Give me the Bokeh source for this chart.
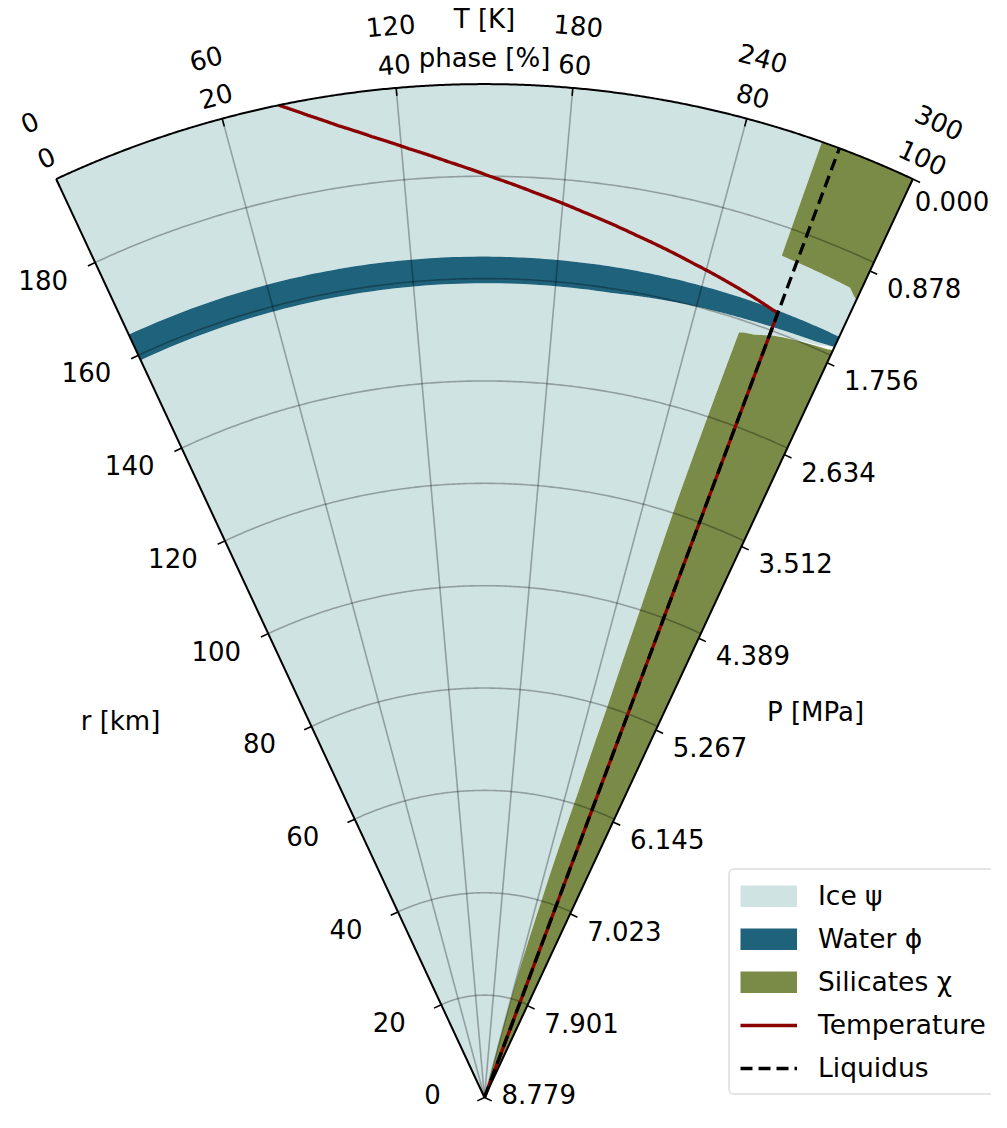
import numpy as np
from bokeh.plotting import figure
from bokeh.models import Range1d, Legend, LegendItem
from bokeh.embed import file_html
from bokeh.resources import INLINE
from bokeh.core.properties import value

# ---------------- data ----------------
R_KM = 198.0          # outer radius [km]
T_MAX = 300.0         # temperature axis maximum [K]
P_MAX = 8.779         # central pressure [MPa]

# radius samples [km] and phase fractions [%]
r_km = [0, 10, 22, 39, 62, 80, 100, 122.5, 140, 157.5, 157.8, 158.1, 158.95,
        159.15, 159.6, 160.0, 160.4, 160.8, 161.1, 161.3, 161.8, 164.0, 164.15,
        164.3, 164.45, 172.0, 172.2, 172.8, 173.6, 174.4, 174.5, 198]
water_pct = [0, 0, 0, 0, 0, 0, 0, 0, 0, 0, 0, 0, 0,
             68, 74, 80, 87, 92, 95.5, 97.5, 100, 100, 85,
             50, 0, 0, 0, 0, 0, 0, 0, 0]
silicate_pct = [21.0, 20.6, 19.8, 17.8, 15.9, 15.1, 14.6, 14.2, 13.7, 13.2, 12.6, 11.0, 9.0,
                8.6, 7.0, 5.0, 3.0, 0.8, 0, 0, 0, 0, 0,
                0, 0, 0, 0.3, 0.8, 1.4, 11.0, 11.1, 11.1]
ice_pct = [79.0, 79.4, 80.2, 82.2, 84.1, 84.9, 85.4, 85.8, 86.3, 86.8, 87.4, 89.0, 91.0,
           23.4, 18.5, 14.2, 9.0, 6.0, 3.0, 1.5, 0, 0, 15,
           50, 100, 100, 99.7, 99.2, 98.6, 89.0, 88.9, 88.9]

# temperature profile
temp_r = [198, 195, 192, 189, 186, 183, 180, 177, 174, 171, 168, 165, 163.6, 140, 100, 50, 0]
temp_K = [79.7, 88.8, 98.7, 110.0, 122.5, 136.5, 152.0, 169.5, 188.8, 210.3, 234.3, 261.0,
          273.0, 273.0, 273.0, 273.0, 273.0]
# liquidus
liq_r = [0, 198]
liq_K = [273.0, 273.0]

# ticks
phase_ticks = [0, 20, 40, 60, 80, 100]
temp_ticks = [0, 60, 120, 180, 240, 300]
r_ticks = [0, 20, 40, 60, 80, 100, 120, 140, 160, 180]
p_ticks = [0.000, 0.878, 1.756, 2.634, 3.512, 4.389, 5.267, 6.145, 7.023, 7.901, 8.779]

# ---------------- geometry ----------------
W, H = 991, 1112
CX, CY = 484.0, 1097.0          # canvas px of the pole
S = 1013.4 / R_KM               # px per km
HALF = 25.0                     # half opening angle [deg]
FONT = value("DejaVu Sans")
FS = "26px"

ICE_C = "#d0e3e3"
WATER_C = "#1e627b"
SIL_C = "#798b47"
TEMP_C = "#8b0000"


def polar(f, r):
    a = np.radians((np.asarray(f, dtype=float) - 0.5) * 2 * HALF)
    r = np.asarray(r, dtype=float)
    return r * np.sin(a), r * np.cos(a)


def page(px, py):
    return (px - CX) / S, (CY - py) / S


def seg_path(rs, fs, n=60):
    pr, pf = [], []
    for i in range(len(rs) - 1):
        t = np.linspace(0, 1, n, endpoint=False)
        pr.extend(rs[i] + (rs[i + 1] - rs[i]) * t)
        pf.extend(fs[i] + (fs[i + 1] - fs[i]) * t)
    pr.append(rs[-1])
    pf.append(fs[-1])
    return np.array(pf), np.array(pr)


def arc(r, f0, f1, n=200):
    f = np.linspace(f0, f1, n)
    return f, np.full(n, r)


def region(r, fl, fr):
    r = np.asarray(r, float)
    fl = np.asarray(fl, float)
    fr = np.asarray(fr, float)
    pos = (fr - fl) > 1e-9
    xs, ys = [], []
    i = 0
    N = len(r)
    while i < N:
        if not pos[i]:
            i += 1
            continue
        a = i
        while i < N and pos[i]:
            i += 1
        b = i - 1
        i0, i1 = max(a - 1, 0), min(b + 1, N - 1)
        lf, lr = seg_path(r[i0:i1 + 1], fl[i0:i1 + 1])
        rf, rr = seg_path(r[i0:i1 + 1], fr[i0:i1 + 1])
        tf, tr = arc(r[i1], fl[i1], fr[i1])
        bf, br = arc(r[i0], fr[i0], fl[i0])
        F = np.concatenate([lf, tf, rf[::-1], bf])
        Rr = np.concatenate([lr, tr, rr[::-1], br])
        x, y = polar(F, Rr)
        xs.append(list(x))
        ys.append(list(y))
    return xs, ys


p = figure(width=W, height=H, output_backend="svg", toolbar_location=None,
           x_range=Range1d(-CX / S, (W - CX) / S), y_range=Range1d(-(H - CY) / S, CY / S),
           x_axis_type=None, y_axis_type=None, min_border=0)
p.outline_line_color = None
p.background_fill_color = "white"

phi = np.array(water_pct) / 100.0
psi = np.array(ice_pct) / 100.0
chi = np.array(silicate_pct) / 100.0

ix, iy = region(r_km, phi, phi + psi)
p.patches(ix, iy, fill_color=ICE_C, line_color=None)
wx, wy = region(r_km, np.zeros_like(phi), phi)
p.patches(wx, wy, fill_color=WATER_C, line_color=None)
sx, sy = region(r_km, 1 - chi, np.ones_like(chi))
p.patches(sx, sy, fill_color=SIL_C, line_color=None)

# legend proxies (zero-length lines: nothing visible in the plot)
lg_ice = p.line([0, 0], [0, 0], line_color=ICE_C, line_width=22)
lg_water = p.line([0, 0], [0, 0], line_color=WATER_C, line_width=22)
lg_sil = p.line([0, 0], [0, 0], line_color=SIL_C, line_width=22)

# grid
gx, gy = [], []
for ft in phase_ticks[1:-1]:
    x, y = polar([ft / 100.0] * 2, [0, R_KM])
    gx.append(list(x)); gy.append(list(y))
for rt in r_ticks[1:]:
    f, rr = arc(rt, 0, 1)
    x, y = polar(f, rr)
    gx.append(list(x)); gy.append(list(y))
p.multi_line(gx, gy, line_color="black", line_alpha=0.3, line_width=1.6)

# temperature & liquidus
tf, tr = seg_path(temp_r, np.array(temp_K) / T_MAX, n=30)
tx, ty = polar(tf, tr)
r_temp = p.line(tx, ty, line_color=TEMP_C, line_width=3.3)
lf, lr = seg_path(liq_r, np.array(liq_K) / T_MAX, n=10)
lx, ly = polar(lf, lr)
r_liq = p.line(lx, ly, line_color="black", line_width=3.3, line_dash="12 6")

# spines
f, rr = arc(R_KM, 0, 1, 400)
x, y = polar(f, rr)
ex0, ey0 = polar([0, 0], [0, R_KM])
ex1, ey1 = polar([1, 1], [0, R_KM])
p.multi_line([list(x), list(ex0), list(ex1)], [list(y), list(ey0), list(ey1)],
             line_color="black", line_width=2)

# ticks
TL = 8.0 / S
a0 = np.radians(HALF)
tkx0, tky0, tkx1, tky1 = [], [], [], []
for ft in phase_ticks:
    x0, y0 = polar(ft / 100.0, R_KM)
    x1, y1 = polar(ft / 100.0, R_KM - TL)
    tkx0.append(float(x0)); tky0.append(float(y0)); tkx1.append(float(x1)); tky1.append(float(y1))
for rt in r_ticks:
    x0, y0 = polar(0.0, rt)
    tkx0.append(float(x0)); tky0.append(float(y0))
    tkx1.append(float(x0) - TL * np.cos(a0)); tky1.append(float(y0) - TL * np.sin(a0))
p_r = [R_KM * (1 - pv / P_MAX) for pv in p_ticks]
for rt in p_r:
    x0, y0 = polar(1.0, rt)
    tkx0.append(float(x0)); tky0.append(float(y0))
    tkx1.append(float(x0) + TL * np.cos(a0)); tky1.append(float(y0) - TL * np.sin(a0))
p.segment(tkx0, tky0, tkx1, tky1, line_color="black", line_width=1.6)

# theta tick labels
for ticks, scale, off in [(phase_ticks, 100.0, 24.0), (temp_ticks, T_MAX, 63.0)]:
    fs = np.array(ticks) / scale
    x, y = polar(fs, R_KM + off / S)
    ang = -np.radians((fs - 0.5) * 2 * HALF)
    p.text(list(x), list(y), text=[str(t) for t in ticks], angle=list(ang),
           text_align="center", text_baseline="middle", text_font=FONT, text_font_size=FS,
           text_color="black")

# theta axis titles
x, y = polar([0.5, 0.5], [R_KM + 26 / S, R_KM + 65 / S])
p.text(list(x), list(y), text=["phase [%]", "T [K]"], text_align="center", text_baseline="middle",
       text_font=FONT, text_font_size=FS, text_color="black")

# r tick labels (left); the bottom one is lifted to stay inside the canvas
x, y = polar(np.zeros(len(r_ticks)), r_ticks)
r_yoff = [-4 if t == 0 else 17 for t in r_ticks]
p.text(list(x), list(y), text=[str(t) for t in r_ticks], x_offset=-52, y_offset=r_yoff,
       text_align="center", text_baseline="middle", text_font=FONT, text_font_size=FS)
# P tick labels (right); first / last nudged to stay inside the canvas
x, y = polar(np.ones(len(p_r)), p_r)
p_xoff = [2] + [17] * (len(p_ticks) - 1)
p_yoff = [22] + [17] * (len(p_ticks) - 2) + [-4]
p.text(list(x), list(y), text=["%.3f" % v for v in p_ticks], x_offset=p_xoff, y_offset=p_yoff,
       text_align="left", text_baseline="middle", text_font=FONT, text_font_size=FS)

# radial axis titles
rx, ry = page(120, 720)
px_, py_ = page(815, 711)
p.text([rx, px_], [ry, py_], text=["r [km]", "P [MPa]"], text_align="center", text_baseline="middle",
       text_font=FONT, text_font_size=FS)

legend = Legend(items=[
    LegendItem(label="Ice ψ", renderers=[lg_ice]),
    LegendItem(label="Water ϕ", renderers=[lg_water]),
    LegendItem(label="Silicates χ", renderers=[lg_sil]),
    LegendItem(label="Temperature", renderers=[r_temp]),
    LegendItem(label="Liquidus", renderers=[r_liq]),
], location=(728, 17))
legend.label_text_font = "DejaVu Sans"
legend.label_text_font_size = "26.5px"
legend.label_text_color = "black"
legend.glyph_width = 57
legend.glyph_height = 22
legend.label_standoff = 21
legend.padding = 10
legend.spacing = 12
legend.label_height = 30
legend.margin = 0
legend.border_line_color = "#cccccc"
legend.border_line_width = 2
legend.background_fill_alpha = 0.85
if "border_radius" in Legend.properties():
    legend.border_radius = 6
p.add_layout(legend)

open("out.html", "w").write(file_html(p, INLINE))
